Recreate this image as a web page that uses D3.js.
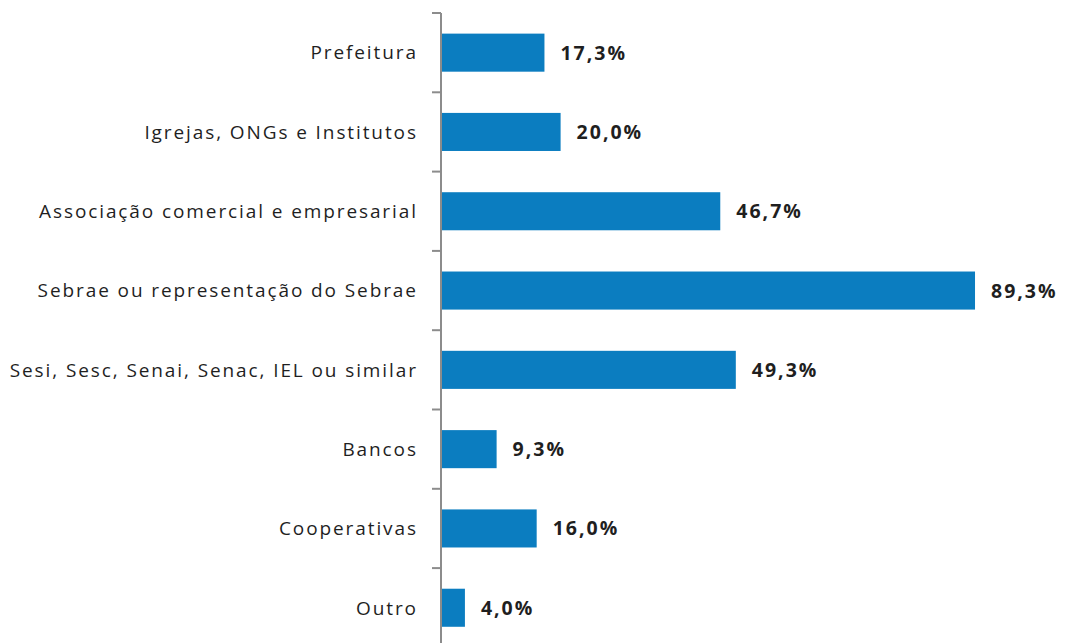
<!DOCTYPE html>
<html><head><meta charset="utf-8">
<script src="https://cdn.jsdelivr.net/npm/d3@7"></script>
<style>body{margin:0;background:#fff;} svg{display:block;}</style>
</head><body>
<script>
const categories = ["Prefeitura","Igrejas, ONGs e Institutos","Associação comercial e empresarial","Sebrae ou representação do Sebrae","Sesi, Sesc, Senai, Senac, IEL ou similar","Bancos","Cooperativas","Outro"];
const values = [17.3, 20.0, 46.7, 89.3, 49.3, 9.3, 16.0, 4.0];
const valueLabels = ["17,3%","20,0%","46,7%","89,3%","49,3%","9,3%","16,0%","4,0%"];

const W = 1065, H = 643;
const svg = d3.select("body").append("svg").attr("width", W).attr("height", H);
const x0 = 441;
const x = d3.scaleLinear().domain([0, 100]).range([x0, x0 + 598]);
const y = d3.scaleBand().domain(categories).range([13, 13 + 8 * 79.3]).paddingInner(0.52).paddingOuter(0.26);

const step = y.step();
svg.append("line").attr("x1", x0).attr("x2", x0).attr("y1", 13).attr("y2", H).attr("stroke", "#8c8c8c").attr("stroke-width", 2);
svg.selectAll("line.tick").data(d3.range(8)).join("line").attr("class","tick")
  .attr("x1", x0 - 9).attr("x2", x0).attr("y1", i => 13 + i * step).attr("y2", i => 13 + i * step)
  .attr("stroke", "#8c8c8c").attr("stroke-width", 2);

svg.selectAll("rect.bar").data(categories).join("rect").attr("class","bar")
  .attr("x", x0 + 1).attr("y", d => y(d)).attr("height", y.bandwidth())
  .attr("width", (d, i) => x(values[i]) - x0 - 1).attr("fill", "#0b7dc0");

const catLS = 1.9;
svg.selectAll("text.cat").data(categories).join("text").attr("class","cat")
  .attr("x", 416 + catLS).attr("y", d => y(d) + y.bandwidth() / 2).attr("dy", "0.36em")
  .attr("text-anchor", "end").attr("font-family", "'Open Sans', sans-serif").attr("font-size", 19)
  .attr("letter-spacing", catLS).attr("fill", "#1f1f1f").text(d => d);

svg.selectAll("text.val").data(categories).join("text").attr("class","val")
  .attr("x", (d, i) => x(values[i]) + 16).attr("y", d => y(d) + y.bandwidth() / 2).attr("dy", "0.36em")
  .attr("font-family", "'Open Sans', sans-serif").attr("font-weight", "bold").attr("font-size", 19.5)
  .attr("letter-spacing", 2).attr("fill", "#1f1f1f").text((d, i) => valueLabels[i]);
</script>
</body></html>
